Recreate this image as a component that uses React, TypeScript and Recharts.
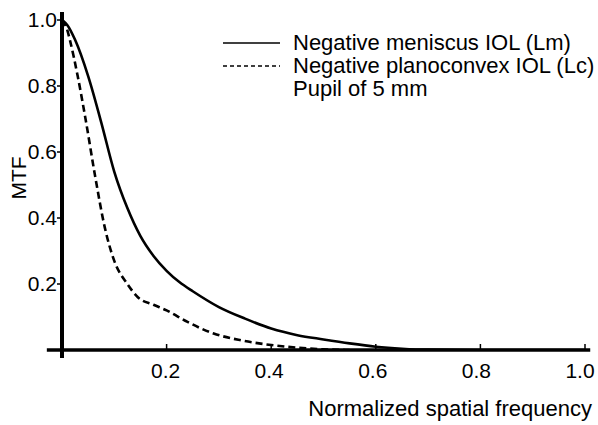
import React from 'react';
import {
  LineChart,
  Line,
  XAxis,
  YAxis,
  ReferenceLine,
  Legend,
  Label,
} from 'recharts';

// Lm: negative meniscus IOL (solid)
const lmFreq = [0, 0.01, 0.025, 0.05, 0.075, 0.1, 0.125, 0.15, 0.175, 0.2, 0.225, 0.25, 0.3, 0.35, 0.4, 0.45, 0.5, 0.55, 0.6, 0.65, 0.7, 0.8, 0.9, 1.0];
const lmMtf = [1.0, 0.985, 0.94, 0.83, 0.69, 0.54, 0.43, 0.345, 0.285, 0.24, 0.205, 0.178, 0.13, 0.095, 0.065, 0.045, 0.032, 0.02, 0.01, 0.004, 0.001, 0, 0, 0];

// Lc: negative planoconvex IOL (dashed)
const lcFreq = [0, 0.01, 0.015, 0.03, 0.045, 0.063, 0.082, 0.1, 0.125, 0.145, 0.175, 0.2, 0.24, 0.29, 0.34, 0.4, 0.45, 0.5, 0.55];
const lcMtf = [1.0, 0.97, 0.94, 0.83, 0.7, 0.53, 0.37, 0.27, 0.2, 0.16, 0.137, 0.12, 0.085, 0.05, 0.03, 0.015, 0.007, 0.002, 0];

const xTicks = [0.2, 0.4, 0.6, 0.8, 1.0];
const yTicks = [0.2, 0.4, 0.6, 0.8, 1.0];

const lmName = 'Negative meniscus IOL (Lm)';
const lcName = 'Negative planoconvex IOL (Lc)';
const note = 'Pupil of 5 mm';

const lmData = lmFreq.map((f, i) => ({ f, v: lmMtf[i] }));
const lcData = lcFreq.map((f, i) => ({ f, v: lcMtf[i] }));

const FONT = '"Liberation Sans", Arial, sans-serif';

const XTick = (props: any) => {
  const { x, y, payload } = props;
  // labels in the scan sit a little left of their ticks, more so toward the right
  const lx = x - 5 * Number(payload.value);
  return (
    <g>
      <line x1={x} x2={x} y1={y} y2={y - 6} stroke="#000" strokeWidth={1.5} />
      <text x={lx} y={y + 28} textAnchor="middle" fontSize={21} fill="#000" fontFamily={FONT}>
        {Number(payload.value).toFixed(1)}
      </text>
    </g>
  );
};

const YTick = (props: any) => {
  const { x, y, payload } = props;
  return (
    <g>
      <line x1={x - 5} x2={x} y1={y} y2={y} stroke="#000" strokeWidth={1.5} />
      <text x={x - 5} y={y + 7} textAnchor="end" fontSize={21} fill="#000" fontFamily={FONT}>
        {Number(payload.value).toFixed(1)}
      </text>
    </g>
  );
};

const LegendBox = () => (
  <div style={{ fontFamily: FONT, fontSize: 22, color: '#000', lineHeight: '23px' }}>
    {[
      { name: lmName, dash: undefined as string | undefined },
      { name: lcName, dash: '4 3' },
    ].map((r) => (
      <div key={r.name} style={{ display: 'flex', alignItems: 'center', height: 23 }}>
        <svg width={70} height={10}>
          <line x1={0} x2={57} y1={5} y2={5} stroke="#000" strokeWidth={1.3} strokeDasharray={r.dash} />
        </svg>
        <span style={{ whiteSpace: 'nowrap' }}>{r.name}</span>
      </div>
    ))}
    <div style={{ height: 23, paddingLeft: 70, whiteSpace: 'nowrap' }}>{note}</div>
  </div>
);

export default function App() {
  return (
    <div style={{ position: 'absolute', left: 0, top: 0, width: 598, height: 425, background: '#fff', overflow: 'hidden' }}>
      <LineChart width={598} height={425} margin={{ top: 20, right: 13, left: 0, bottom: 0 }}>
        <XAxis
          type="number"
          dataKey="f"
          domain={[0, 1]}
          ticks={xTicks}
          axisLine={false}
          tickLine={false}
          tickSize={0}
          tickMargin={0}
          height={75}
          tick={<XTick />}
          allowDataOverflow
        >
          <Label
            content={(p: any) => {
              const vb = p.viewBox;
              return (
                <text x={vb.x + vb.width + 7} y={vb.y + 66} textAnchor="end" fontSize={22} fill="#000" fontFamily={FONT}>
                  Normalized spatial frequency
                </text>
              );
            }}
          />
        </XAxis>
        <YAxis
          type="number"
          domain={[0, 1]}
          ticks={yTicks}
          axisLine={false}
          tickLine={false}
          tickSize={0}
          tickMargin={0}
          width={62}
          tick={<YTick />}
          allowDataOverflow
        >
          <Label
            content={(p: any) => {
              const vb = p.viewBox;
              const cx = vb.x + 18;
              const cy = vb.y + vb.height / 2 - 7;
              return (
                <text x={cx} y={cy} textAnchor="middle" dominantBaseline="central" fontSize={21} fill="#000" fontFamily={FONT} transform={`rotate(-90 ${cx} ${cy})`}>
                  MTF
                </text>
              );
            }}
          />
        </YAxis>
        <Legend
          layout="vertical"
          align="center"
          verticalAlign="middle"
          content={<LegendBox />}
          wrapperStyle={{ position: 'absolute', left: 223, top: 31, width: 'auto' }}
        />
        <Line data={lcData} dataKey="v" name={lcName} type="monotone" stroke="#000" strokeWidth={2.6} strokeDasharray="7 4" dot={false} isAnimationActive={false} />
        <Line data={lmData} dataKey="v" name={lmName} type="monotone" stroke="#000" strokeWidth={2.6} dot={false} isAnimationActive={false} />
        <ReferenceLine
          segment={[{ x: -0.029, y: 0 }, { x: 1.01, y: 0 }]}
          stroke="#000"
          strokeWidth={3.5}
          ifOverflow="visible"
        />
        <ReferenceLine
          segment={[{ x: 0, y: -0.024 }, { x: 0, y: 1.024 }]}
          stroke="#000"
          strokeWidth={4}
          ifOverflow="visible"
        />
      </LineChart>
    </div>
  );
}
